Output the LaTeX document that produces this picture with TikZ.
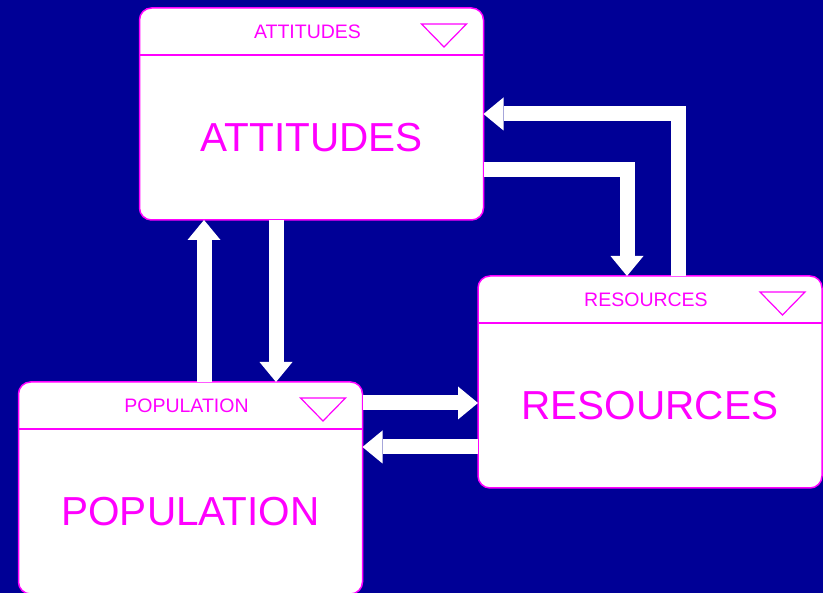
\documentclass[tikz,border=0pt]{standalone}
\usepackage{fontspec}
\setmainfont{Liberation Sans}
\usepackage{tikz}
\usetikzlibrary{arrows.meta}

\definecolor{bgblue}{RGB}{0,0,150}
\definecolor{pink}{RGB}{255,0,255}

\tikzset{
  panel/.style={draw=pink, fill=white, line width=1.5pt, rounded corners=12pt,
    minimum width=344pt, minimum height=212pt, outer sep=0pt},
  header/.style={draw=pink, line width=1.2pt},
  smalllabel/.style={text=pink, font=\fontsize{19.5}{20}\selectfont, inner sep=0pt},
  biglabel/.style={text=pink, font=\fontsize{40.5}{41}\selectfont, inner sep=0pt},
  flow/.style={draw=white, line width=15pt,
    -{Triangle[width=33pt, length=20pt, line width=0pt]}}
}

% name, position, label
\newcommand{\panel}[3]{%
  \node[panel] (#1) at (#2) {};
  \draw[header] ([yshift=-47pt]#1.north west) -- ([yshift=-47pt]#1.north east);
  \node[smalllabel] (#1-title) at ([xshift=-4pt,yshift=-24pt]#1.north) {#3};
  \draw[header] ([xshift=-62pt,yshift=-16pt]#1.north east) -- ++(45pt,0) -- ++(-22.5pt,-23pt) -- cycle;
  \node[biglabel] (#1-label) at ([yshift=-130pt]#1.north) {#3};
}

\begin{document}
\begin{tikzpicture}[x=1pt,y=1pt]
  \fill[bgblue] (0,0) rectangle (823,593);
  \useasboundingbox (0,0) rectangle (823,593);

  \panel{att}{311.5,479}{ATTITUDES}
  \panel{res}{650,211}{RESOURCES}
  \panel{pop}{190.5,105}{POPULATION}

  % attitudes <-> population
  \draw[flow] ([xshift=13.5pt]pop.north) -- ([xshift=13.5pt]pop.north |- att.south);
  \draw[flow] ([xshift=-35.5pt]att.south) -- ([xshift=-35.5pt]att.south |- pop.north);
  % population <-> resources
  \draw[flow] ([yshift=85pt]pop.east) -- ([yshift=85pt]pop.east -| res.west);
  \draw[flow] ([yshift=-65pt]res.west) -- ([yshift=-65pt]res.west -| pop.east);
  % attitudes <-> resources
  \draw[flow] ([yshift=-56pt]att.east) -| ([xshift=-23pt]res.north);
  \draw[flow] ([xshift=28pt]res.north) |- (att.east);
\end{tikzpicture}
\end{document}
